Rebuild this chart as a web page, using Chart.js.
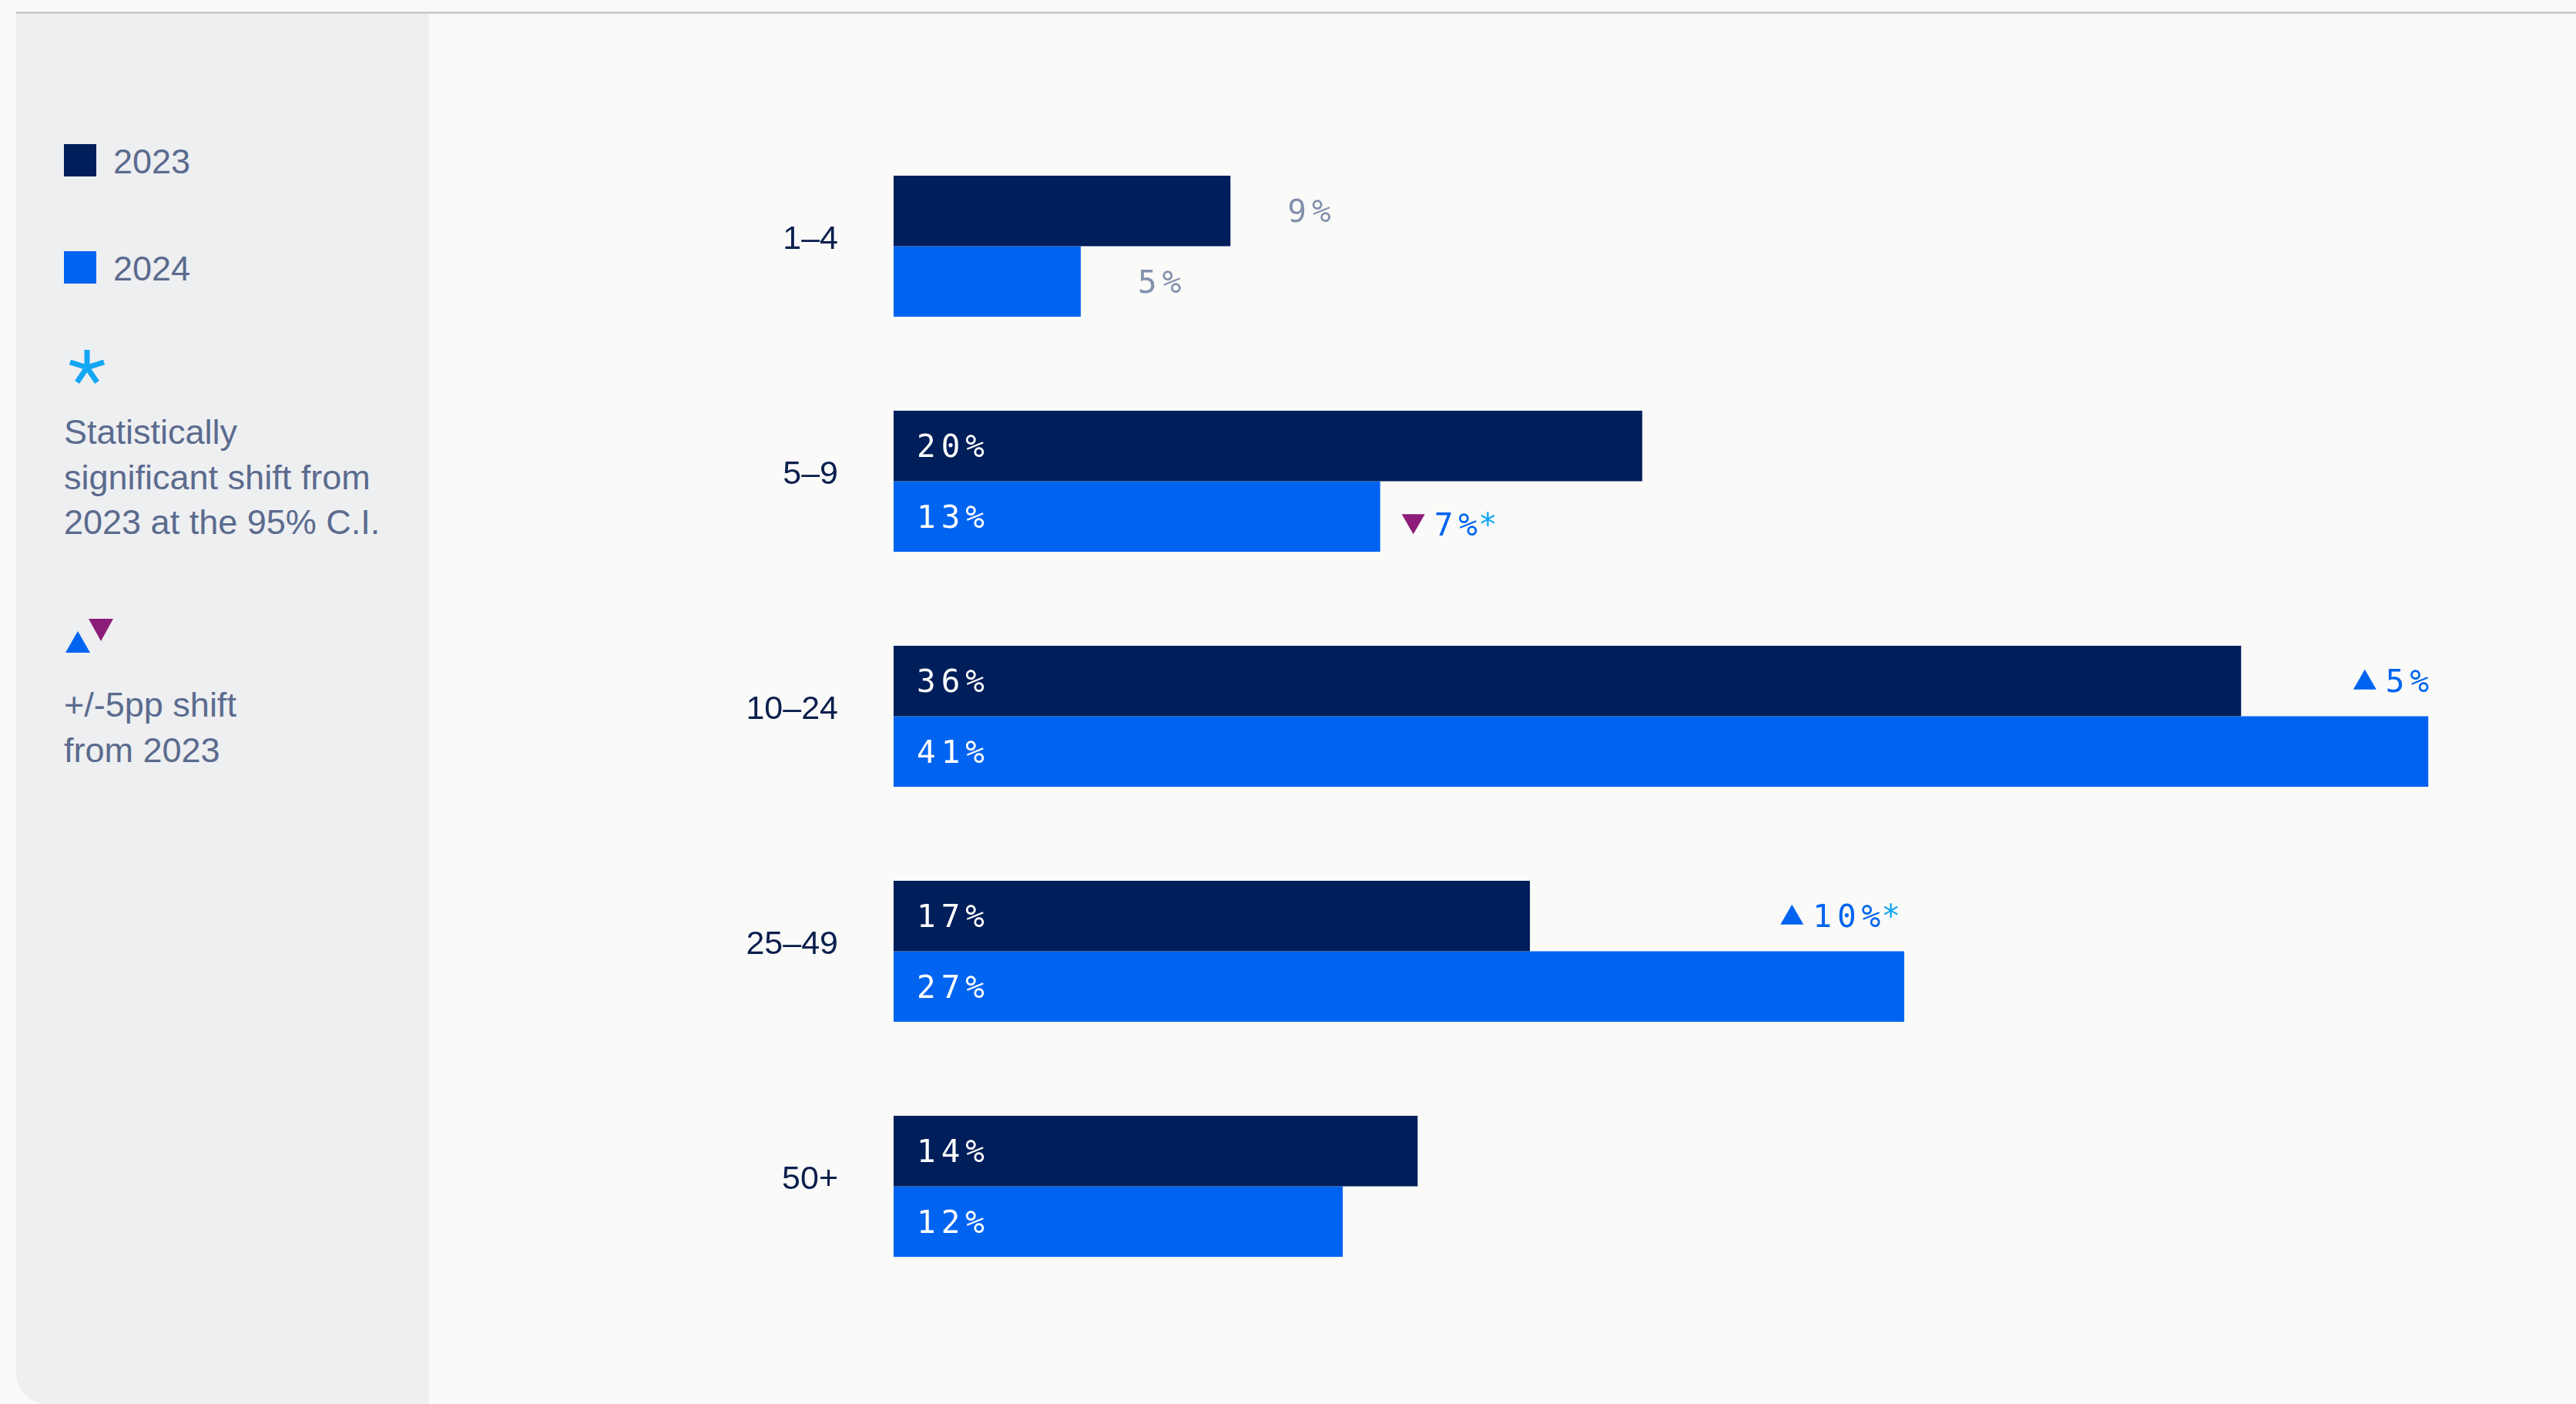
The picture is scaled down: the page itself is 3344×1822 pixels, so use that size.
<!DOCTYPE html>
<html>
<head>
<meta charset="utf-8">
<script src="https://cdn.jsdelivr.net/npm/chart.js"></script>
<title>Company size 2023 vs 2024</title>
<style>
    html, body { margin: 0; padding: 0; background: #fafaf9; }
    body { width: 3344px; height: 1822px; position: relative; overflow: hidden; font-family: "Liberation Sans", Arial, sans-serif; }
    .topline { position: absolute; left: 21px; right: 0; top: 15px; height: 3px; background: #cdcdcd; }
    .panel { position: absolute; left: 21px; top: 18px; width: 536px; bottom: 0; background: #eeeff1; border-bottom-left-radius: 40px; }
    .legend { position: absolute; color: #5b6b8e; font-size: 45px; }
    .swatch { position: absolute; width: 42px; height: 42px; }
    .lg-text { position: absolute; line-height: 44px; white-space: nowrap; }
    .lg-block { position: absolute; line-height: 58.6px; white-space: nowrap; }
    #wrap { position: absolute; left: 0; top: 0; width: 3344px; height: 1822px; }
</style>
</head>
<body>
<div class="topline"></div>
<div class="panel"></div>

<div class="legend">
    <div class="swatch" style="left:83px;top:187px;background:#001e5a;"></div>
    <div class="lg-text" style="left:147px;top:188px;">2023</div>
    <div class="swatch" style="left:83px;top:326px;background:#0064f0;"></div>
    <div class="lg-text" style="left:147px;top:327px;">2024</div>

    <svg style="position:absolute;left:88px;top:452px;" width="50" height="50" viewBox="0 0 50 50">
        <g stroke="#12a6f4" stroke-width="7" stroke-linecap="butt">
            <line x1="25" y1="25" x2="25" y2="2"/>
            <line x1="25" y1="25" x2="47" y2="18"/>
            <line x1="25" y1="25" x2="38" y2="44"/>
            <line x1="25" y1="25" x2="12" y2="44"/>
            <line x1="25" y1="25" x2="3" y2="18"/>
        </g>
    </svg>
    <div class="lg-block" style="left:83px;top:532px;">Statistically<br>significant shift from<br>2023 at the 95% C.I.</div>

    <svg style="position:absolute;left:84px;top:800px;" width="66" height="50" viewBox="0 0 66 50">
        <polygon points="1,47 33,47 17,19" fill="#0064f0"/>
        <polygon points="31,3 63,3 47,32" fill="#8c1d78"/>
    </svg>
    <div class="lg-block" style="left:83px;top:886px;">+/-5pp shift<br>from 2023</div>
</div>

<div id="wrap"><canvas id="sizeChart"></canvas></div>

<script>
    // data
    var categories = ['1–4', '5–9', '10–24', '25–49', '50+'];
    var values2023 = [9, 20, 36, 17, 14];
    var values2024 = [5, 13, 41, 27, 12];
    // pp shift from 2023 (only the flagged ones) and significance
    var shifts = [null, -7, 5, 10, null];
    var significant = [false, true, false, true, false];

    var navy = '#001e5a';
    var blue = '#0064f0';
    var purple = '#8c1d78';
    var skyBlue = '#12a6f4';
    var monoFont = '41px "DejaVu Sans Mono", "Liberation Mono", monospace';

    function triangle(ctx, x, y, w, h, up, color) {
        ctx.fillStyle = color;
        ctx.beginPath();
        if (up) {
            ctx.moveTo(x, y + h / 2);
            ctx.lineTo(x + w, y + h / 2);
            ctx.lineTo(x + w / 2, y - h / 2);
        } else {
            ctx.moveTo(x, y - h / 2);
            ctx.lineTo(x + w, y - h / 2);
            ctx.lineTo(x + w / 2, y + h / 2);
        }
        ctx.closePath();
        ctx.fill();
    }

    var labelPlugin = {
        id: 'barLabels',
        afterDatasetsDraw: function (chart) {
            var ctx = chart.ctx;
            ctx.save();
            ctx.font = monoFont;
            ctx.letterSpacing = '7px';
            ctx.textBaseline = 'middle';
            ctx.textAlign = 'left';
            var dy = 4; // mono digits sit a bit high with 'middle'

            chart.data.datasets.forEach(function (ds, di) {
                chart.getDatasetMeta(di).data.forEach(function (bar, i) {
                    var v = ds.data[i];
                    var txt = v + '%';
                    if (v < 10) {
                        ctx.fillStyle = '#8391ad';
                        ctx.fillText(txt, bar.x + 74, bar.y + dy);
                    } else {
                        ctx.fillStyle = '#ffffff';
                        ctx.fillText(txt, bar.base + 30, bar.y + dy);
                    }
                });
            });

            // shift markers
            var m23 = chart.getDatasetMeta(0).data;
            var m24 = chart.getDatasetMeta(1).data;
            shifts.forEach(function (s, i) {
                if (s === null) return;
                var txt = Math.abs(s) + '%';
                var star = significant[i] ? '*' : '';
                var tw = ctx.measureText(txt).width;
                var sw = star ? ctx.measureText(star).width : 0;
                var x, y;
                if (s > 0) {
                    y = m23[i].y;
                    var right = m24[i].x + 8;
                    x = right - sw - tw;
                    triangle(ctx, x - 42, y - 2, 30, 26, true, blue);
                } else {
                    y = m24[i].y + 10;
                    triangle(ctx, m24[i].x + 28, y, 30, 26, false, purple);
                    x = m24[i].x + 70;
                }
                ctx.fillStyle = blue;
                ctx.fillText(txt, x, y + dy);
                if (star) {
                    ctx.fillStyle = skyBlue;
                    ctx.fillText(star, x + tw - 6, y + dy);
                }
            });
            ctx.restore();
        }
    };

    var ctx = document.getElementById('sizeChart').getContext('2d');
    var sizeChart = new Chart(ctx, {
        type: 'bar',
        data: {
            labels: categories,
            datasets: [
                { label: '2023', data: values2023, backgroundColor: navy },
                { label: '2024', data: values2024, backgroundColor: blue }
            ]
        },
        options: {
            indexAxis: 'y',
            responsive: true,
            maintainAspectRatio: false,
            animation: false,
            datasets: {
                bar: { categoryPercentage: 0.6, barPercentage: 1.0, borderWidth: 0 }
            },
            layout: {
                padding: { top: 167, bottom: 130, left: 0, right: 46 }
            },
            plugins: {
                legend: { display: false },
                tooltip: { enabled: false }
            },
            scales: {
                x: { display: false, min: 0, max: 44 },
                y: {
                    grid: { display: false, drawTicks: false },
                    border: { display: false },
                    ticks: {
                        padding: 72,
                        labelOffset: -8,
                        color: '#0b1f4d',
                        font: { family: '"Liberation Sans", Arial, sans-serif', size: 43 }
                    },
                    afterFit: function (axis) { axis.width = 1160; }
                }
            }
        },
        plugins: [labelPlugin]
    });
</script>
</body>
</html>
